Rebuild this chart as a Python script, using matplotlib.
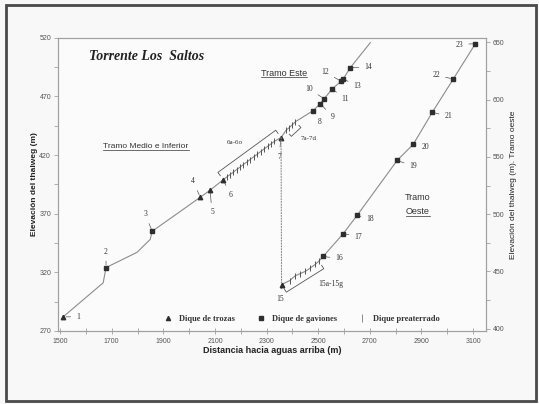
import matplotlib
matplotlib.use('Agg')
import matplotlib.pyplot as plt
from matplotlib.lines import Line2D
from matplotlib.transforms import IdentityTransform
from matplotlib.patches import ConnectionPatch
import numpy as np

# ---------------- data ----------------
# Tramo Medio e Inferior + Tramo Este profile (left axis)
este_x = [1512, 1667, 1678, 1798, 1849, 1857, 2043, 2081, 2132,
          2145, 2158, 2171, 2184, 2197, 2210, 2223, 2236, 2250, 2263, 2277, 2291, 2305, 2318, 2330,
          2356, 2375, 2388, 2400, 2412,
          2481, 2508, 2523, 2554, 2589, 2597, 2624, 2702]
este_y = [282, 311, 324, 337, 348, 355, 384, 390, 399,
          401.1, 403.3, 405.4, 407.6, 409.7, 411.9, 414.0, 416.2, 418.5, 420.6, 423.0, 425.3, 427.6, 429.7, 431.7,
          435, 441, 443.5, 446, 448.5,
          458, 464, 468, 476.5, 483, 485, 494.5, 516]

# Tramo Oeste profile (right axis)
oeste_x = [2358, 2390, 2410, 2430, 2450, 2470, 2488, 2503, 2519, 2597, 2651, 2806, 2868, 2942, 3023, 3109]
oeste_y = [438.5, 442, 446, 448, 450, 453, 456, 459, 463, 483, 499, 547, 561, 589, 618, 649]

# numbered dams, Tramo Este / Medio e Inferior (left axis)
este_ids = ['1', '2', '3', '4', '5', '6', '7', '8', '9', '10', '11', '12', '13', '14']
este_dam_x = [1512, 1678, 1857, 2043, 2081, 2132, 2356, 2481, 2508, 2523, 2554, 2589, 2597, 2624]
este_dam_y = [282, 324, 355, 384, 390, 399, 435, 458, 464, 468, 476.5, 483, 485, 494.5]
este_types = ['trozas', 'gaviones', 'gaviones', 'trozas', 'trozas', 'trozas', 'trozas',
              'gaviones', 'gaviones', 'gaviones', 'gaviones', 'gaviones', 'gaviones', 'gaviones']

# numbered dams, Tramo Oeste (right axis)
oeste_ids = ['15', '16', '17', '18', '19', '20', '21', '22', '23']
oeste_dam_x = [2358, 2519, 2597, 2651, 2806, 2868, 2942, 3023, 3109]
oeste_dam_y = [438.5, 463, 483, 499, 547, 561, 589, 618, 649]
oeste_types = ['trozas'] + ['gaviones'] * 8

# pre-silted dams (diques preaterrados)
d6_x = [2145, 2158, 2171, 2184, 2197, 2210, 2223, 2236, 2250, 2263, 2277, 2291, 2305, 2318, 2330]
d6_y = [401.1, 403.3, 405.4, 407.6, 409.7, 411.9, 414.0, 416.2, 418.5, 420.6, 423.0, 425.3, 427.6, 429.7, 431.7]
d7_x = [2375, 2388, 2400, 2412]
d7_y = [441, 443.5, 446, 448.5]
d15_x = [2390, 2410, 2430, 2450, 2470, 2488, 2503]
d15_y = [442, 446, 448, 450, 453, 456, 459]

# label offsets (pixels) for numbered dams
este_off = [(15, 0), (0, 16), (-7, 17), (-7, 16), (2, -22), (7, -15), (-2, -19),
            (6, -11), (12, -13), (-15, 10), (13, -10), (-16, 9), (14, -7), (18, 1)]
oeste_off = [(-1, -14), (16, -2), (15, -3), (13, -4), (16, -6), (12, -3), (16, -4), (-17, 4), (-16, -1)]

legend_labels = ['Dique de trozas', 'Dique de gaviones', 'Dique preaterrado']

# ---------------- style ----------------
LINE = '#8c8c8c'
MARK = '#2e2e2e'
TXT = '#333333'
SPINE = '#a0a0a0'
serif = 'Liberation Serif'
sans = 'Liberation Sans'

fig = plt.figure(figsize=(5.39, 4.04), dpi=100)
fig.patch.set_facecolor('#f8f8f8')
ax = fig.add_axes([0.1076, 0.181, 0.7941, 0.7252])
ax.set_facecolor('#fbfbfb')
ax2 = ax.twinx()

ax.set_xlim(1492, 3150)
ax.set_ylim(270, 520)
ax2.set_ylim(398, 654)

ax.set_xticks(range(1500, 3101, 200))
ax.set_xticks(range(1600, 3101, 200), minor=True)
ax.set_yticks(range(270, 521, 50))
ax.set_yticks(range(295, 521, 50), minor=True)
ax2.set_yticks(range(400, 651, 50))
ax2.set_yticks(range(425, 651, 50), minor=True)

for a in (ax, ax2):
    for s in a.spines.values():
        s.set_color(SPINE)
        s.set_linewidth(0.8)
ax.tick_params(axis='x', which='both', direction='inout', length=5, width=0.6, color=SPINE,
               labelsize=5, labelcolor='#555555', pad=2.5)
ax.tick_params(axis='y', which='both', direction='out', length=3, width=0.6, color=SPINE,
               labelsize=5, labelcolor='#555555', pad=2)
ax2.tick_params(axis='y', which='both', direction='out', length=3, width=0.6, color=SPINE,
                labelsize=5, labelcolor='#555555', pad=2)
for lab in ax.get_xticklabels() + ax.get_yticklabels() + ax2.get_yticklabels():
    lab.set_family(sans)

# profiles
ax.plot(este_x, este_y, color=LINE, lw=0.8, zorder=2)
ax2.plot(oeste_x, oeste_y, color=LINE, lw=0.8, zorder=2)

# dotted connection from dam 7 down to dam 15
con = ConnectionPatch(xyA=(este_dam_x[6], este_dam_y[6]), coordsA=ax.transData,
                      xyB=(oeste_dam_x[0], oeste_dam_y[0]), coordsB=ax2.transData,
                      linestyle=(0, (1, 1.5)), color=LINE, lw=0.8)
fig.add_artist(con)

mk = {'trozas': dict(marker='^', ms=3.2), 'gaviones': dict(marker='s', ms=3)}
for a, xs, ys, ts in ((ax, este_dam_x, este_dam_y, este_types), (ax2, oeste_dam_x, oeste_dam_y, oeste_types)):
    for x, y, t in zip(xs, ys, ts):
        a.plot([x], [y], linestyle='none', color=MARK, zorder=4, **mk[t])

ax.plot(d6_x, d6_y, linestyle='none', marker='|', ms=5, mew=0.7, color='#555555', zorder=3)
ax.plot(d7_x, d7_y, linestyle='none', marker='|', ms=5, mew=0.7, color='#555555', zorder=3)
ax2.plot(d15_x, d15_y, linestyle='none', marker='|', ms=5, mew=0.7, color='#555555', zorder=3)

# number labels with leader lines
for a, ids, xs, ys, offs in ((ax, este_ids, este_dam_x, este_dam_y, este_off),
                             (ax2, oeste_ids, oeste_dam_x, oeste_dam_y, oeste_off)):
    for i, x, y, o in zip(ids, xs, ys, offs):
        a.annotate(i, xy=(x, y), xytext=o, textcoords='offset pixels', ha='center', va='center',
                   fontsize=5.5, family=serif, color=TXT,
                   arrowprops=dict(arrowstyle='-', color='#555555', lw=0.5, shrinkA=2, shrinkB=2))


def bracket(a, xs, ys, off, hook=4):
    tr = a.transData
    p0 = np.array(tr.transform((xs[0], ys[0])))
    p1 = np.array(tr.transform((xs[-1], ys[-1])))
    d = p1 - p0
    n = np.array([-d[1], d[0]]) / np.hypot(*d)
    s = np.sign(off)
    pts = np.array([p0 + n * (off - s * hook), p0 + n * off, p1 + n * off, p1 + n * (off - s * hook)])
    fig.add_artist(Line2D(pts[:, 0], pts[:, 1], transform=IdentityTransform(), color='#555555', lw=0.6))


bracket(ax, [este_dam_x[5], este_dam_x[6]], [este_dam_y[5], este_dam_y[6]], 9)
bracket(ax, d7_x, d7_y, -8, 3)
bracket(ax2, [oeste_dam_x[0], d15_x[-1]], [oeste_dam_y[0], d15_y[-1]], -9, 4)

ax.annotate('6a-6o', xy=((d6_x[0] + d6_x[-1]) / 2, (d6_y[0] + d6_y[-1]) / 2), xytext=(-16, 17),
            textcoords='offset pixels', ha='center', va='center', fontsize=5, family=serif, color=TXT)
ax.annotate('7a-7d', xy=((d7_x[0] + d7_x[-1]) / 2, (d7_y[0] + d7_y[-1]) / 2), xytext=(18, -12),
            textcoords='offset pixels', ha='center', va='center', fontsize=5, family=serif, color=TXT)
ax2.annotate('15a-15g', xy=((d15_x[0] + d15_x[-1]) / 2, (d15_y[0] + d15_y[-1]) / 2), xytext=(26, -13),
             textcoords='offset pixels', ha='center', va='center', fontsize=5.5, family=serif, color=TXT)

# titles / section labels
fig.text(147 / 539, 1 - 57 / 404, 'Torrente Los  Saltos', ha='center', va='center', fontsize=10,
         family=serif, style='italic', weight='bold', color='#222222')
t1 = fig.text(146 / 539, 1 - 147 / 404, 'Tramo Medio e Inferior', ha='center', va='center',
              fontsize=6, family=sans, color=TXT)
t2 = fig.text(284 / 539, 1 - 73 / 404, 'Tramo Este', ha='center', va='center',
              fontsize=6.5, family=sans, color=TXT)
t3 = fig.text(418 / 539, 1 - 198 / 404, 'Tramo', ha='center', va='center',
              fontsize=6.5, family=sans, color=TXT)
t4 = fig.text(418 / 539, 1 - 212 / 404, 'Oeste', ha='center', va='center',
              fontsize=6.5, family=sans, color=TXT)

ax.set_xlabel('Distancia hacia aguas arriba (m)', fontsize=6.5, family=sans, weight='bold',
              color='#222222', labelpad=0.5)
ax.set_ylabel('Elevación del thalweg (m)', fontsize=6, family=sans, weight='bold',
              color='#222222', labelpad=1)
ax2.set_ylabel('Elevación del thalweg (m). Tramo oeste', fontsize=6, family=sans,
               color='#222222', labelpad=4)

handles = [Line2D([], [], linestyle='none', marker='^', ms=3, color=MARK),
           Line2D([], [], linestyle='none', marker='s', ms=3, color=MARK),
           Line2D([], [], linestyle='none', marker='|', ms=6, mew=0.6, color='#777777')]
leg = ax.legend(handles, legend_labels, ncol=3, loc='center', bbox_to_anchor=(0.57, 0.042),
                frameon=False, handlelength=1.0, handletextpad=0.8, columnspacing=2.6,
                prop=dict(family=serif, weight='bold', size=6))
for t in leg.get_texts():
    t.set_color(TXT)

# outer scanned frame
fig.add_artist(plt.Rectangle((6 / 539, 3 / 404), 530 / 539, 396 / 404, transform=fig.transFigure,
                             fill=False, edgecolor='#4a4a4a', lw=2))

fig.canvas.draw()
inv = fig.transFigure.inverted()
for t in (t1, t2, t4):
    bb = t.get_window_extent()
    (x0, y0), (x1, _) = inv.transform([(bb.x0, bb.y0), (bb.x1, bb.y0)])
    fig.add_artist(Line2D([x0, x1], [y0 + 0.002, y0 + 0.002], transform=fig.transFigure,
                          color=TXT, lw=0.5))

fig.savefig('out.png', dpi=100, facecolor=fig.get_facecolor())
